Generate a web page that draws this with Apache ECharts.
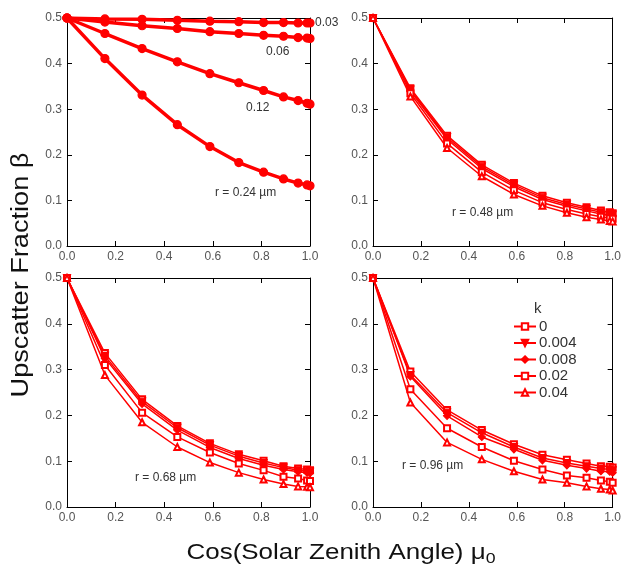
<!DOCTYPE html>
<html>
<head>
<meta charset="utf-8">
<script src="https://cdn.jsdelivr.net/npm/echarts@6/dist/echarts.min.js"></script>
<style>
  html, body { margin: 0; padding: 0; background: #fff; }
  #chart { width: 624px; height: 580px; }
</style>
</head>
<body>
<div id="chart"></div>
<script>
// cos of solar zenith angle, same for every curve
const mu0 = [0, 0.156, 0.309, 0.454, 0.588, 0.707, 0.809, 0.891, 0.951, 0.988, 1.0];
const axisTicks = ['0.0', '0.2', '0.4', '0.6', '0.8', '1.0'];

// panel 1: small particles, k curves lie on top of each other
const r003 = [0.5, 0.498, 0.497, 0.495, 0.493, 0.492, 0.490, 0.490, 0.489, 0.489, 0.489];
const r006 = [0.5, 0.491, 0.483, 0.477, 0.470, 0.466, 0.462, 0.460, 0.457, 0.456, 0.455];
const r012 = [0.5, 0.466, 0.433, 0.404, 0.378, 0.358, 0.341, 0.327, 0.319, 0.313, 0.311];
const r024 = [0.5, 0.411, 0.331, 0.266, 0.218, 0.183, 0.162, 0.147, 0.138, 0.134, 0.132];

// panel 2: r = 0.48
const r048_k0 = [0.5, 0.346, 0.242, 0.178, 0.138, 0.110, 0.095, 0.085, 0.078, 0.074, 0.072];
const r048_k004 = [0.5, 0.343, 0.238, 0.174, 0.134, 0.106, 0.091, 0.081, 0.074, 0.071, 0.069];
const r048_k008 = [0.5, 0.340, 0.234, 0.170, 0.130, 0.102, 0.087, 0.077, 0.070, 0.067, 0.066];
const r048_k02 = [0.5, 0.335, 0.225, 0.162, 0.122, 0.095, 0.080, 0.070, 0.064, 0.061, 0.060];
const r048_k04 = [0.5, 0.328, 0.215, 0.153, 0.113, 0.088, 0.073, 0.063, 0.058, 0.055, 0.054];

// panel 3: r = 0.68
const r068_k0 = [0.5, 0.336, 0.235, 0.177, 0.139, 0.115, 0.101, 0.089, 0.084, 0.082, 0.080];
const r068_k004 = [0.5, 0.330, 0.230, 0.173, 0.135, 0.111, 0.096, 0.086, 0.080, 0.078, 0.077];
const r068_k008 = [0.5, 0.325, 0.225, 0.168, 0.130, 0.106, 0.091, 0.082, 0.077, 0.075, 0.074];
const r068_k02 = [0.5, 0.310, 0.206, 0.153, 0.119, 0.095, 0.080, 0.066, 0.062, 0.058, 0.057];
const r068_k04 = [0.5, 0.288, 0.185, 0.131, 0.097, 0.075, 0.060, 0.050, 0.045, 0.044, 0.043];

// panel 4: r = 0.96
const r096_k0 = [0.5, 0.296, 0.212, 0.168, 0.137, 0.114, 0.103, 0.095, 0.089, 0.088, 0.086];
const r096_k004 = [0.5, 0.288, 0.206, 0.162, 0.131, 0.107, 0.096, 0.089, 0.084, 0.082, 0.080];
const r096_k008 = [0.5, 0.285, 0.199, 0.153, 0.126, 0.102, 0.091, 0.084, 0.078, 0.077, 0.075];
const r096_k02 = [0.5, 0.257, 0.172, 0.131, 0.101, 0.082, 0.069, 0.064, 0.058, 0.055, 0.053];
const r096_k04 = [0.5, 0.228, 0.141, 0.104, 0.078, 0.060, 0.053, 0.045, 0.040, 0.038, 0.036];

const kNames = ['0', '0.004', '0.008', '0.02', '0.04'];
const kSymbols = ['emptyRect', 'path://M0,0 L10,0 L5,10 Z', 'diamond', 'emptyRect', 'emptyTriangle'];
const kSizes = [6, 7, 7, 6, 6];

const RED = '#ff0000';
const FONT = 'Liberation Sans, Arial, sans-serif';

const grids = [
    { left: 67, top: 18, width: 243, height: 228 },
    { left: 373, top: 18, width: 241, height: 228 },
    { left: 67, top: 278, width: 243, height: 229 },
    { left: 373, top: 278, width: 241, height: 229 }
];

function makeAxes() {
    const xAxis = [], yAxis = [];
    grids.forEach((g, i) => {
        const common = {
            gridIndex: i, type: 'value', min: 0,
            axisLine: { show: true, onZero: false, lineStyle: { color: '#000', width: 1 } },
            axisTick: { show: true, inside: true, length: 5, lineStyle: { color: '#000' } },
            splitLine: { show: false }
        };
        xAxis.push(Object.assign({}, common, {
            position: 'bottom', max: 1, interval: 0.2,
            axisLabel: { color: '#555', fontSize: 12, fontFamily: FONT, margin: 5,
                formatter: v => axisTicks[Math.round(v / 0.2)] }
        }));
        xAxis.push(Object.assign({}, common, {
            position: 'top', max: 1, interval: 0.2, axisLabel: { show: false }
        }));
        yAxis.push(Object.assign({}, common, {
            position: 'left', max: 0.5, interval: 0.1,
            axisLabel: { color: '#555', fontSize: 12, fontFamily: FONT, margin: 5,
                formatter: v => v.toFixed(1) }
        }));
        yAxis.push(Object.assign({}, common, {
            position: 'right', max: 0.5, interval: 0.1, axisLabel: { show: false }
        }));
    });
    return { xAxis, yAxis };
}

function line(name, data, panel, symbol, size, width) {
    return {
        name: name,
        type: 'line',
        xAxisIndex: panel * 2,
        yAxisIndex: panel * 2,
        data: mu0.map((x, i) => [x, data[i]]),
        symbol: symbol,
        symbolSize: size,
        showAllSymbol: true,
        lineStyle: { color: RED, width: width },
        itemStyle: { color: RED, borderColor: RED, borderWidth: 1.2 },
        emphasis: { disabled: true },
        animation: false
    };
}

function getOption() {
    const axes = makeAxes();
    const series = [];

    [r003, r006, r012, r024].forEach((d, i) => {
        series.push(line('small' + i, d, 0, 'circle', 8, 3.5));
    });
    const panels = [
        [r048_k0, r048_k004, r048_k008, r048_k02, r048_k04],
        [r068_k0, r068_k004, r068_k008, r068_k02, r068_k04],
        [r096_k0, r096_k004, r096_k008, r096_k02, r096_k04]
    ];
    panels.forEach((set, p) => {
        set.forEach((d, k) => {
            series.push(line(kNames[k], d, p + 1, kSymbols[k], kSizes[k], 1.5));
        });
    });

    const label = (text, x, y) => ({
        type: 'text', x: x, y: y,
        style: { text: text, fill: '#333', font: '12px ' + FONT, textVerticalAlign: 'middle' }
    });

    return {
        backgroundColor: '#fff',
        animation: false,
        grid: grids,
        xAxis: axes.xAxis,
        yAxis: axes.yAxis,
        legend: {
            data: kNames,
            orient: 'vertical',
            left: 508,
            top: 314,
            itemWidth: 22,
            itemHeight: 8,
            itemGap: 1.5,
            textStyle: { color: '#333', fontSize: 15, fontFamily: FONT, padding: [0, 0, 0, -2] },
            selectedMode: false
        },
        graphic: [
            label('0.03', 315, 23),
            label('0.06', 266, 52),
            label('0.12', 246, 108),
            label('r = 0.24 \u00b5m', 215, 193),
            label('r = 0.48 \u00b5m', 452, 213),
            label('r = 0.68 \u00b5m', 135, 478),
            label('r = 0.96 \u00b5m', 402, 466),
            {
                type: 'text', x: 534, y: 309,
                style: { text: 'k', fill: '#333', font: '15px ' + FONT, textVerticalAlign: 'middle' }
            },
            {
                type: 'text', x: 22, y: 275, rotation: Math.PI / 2, scaleX: 1.18,
                style: { text: 'Upscatter Fraction \u03b2', fill: '#111', font: '23px ' + FONT,
                    textAlign: 'center', textVerticalAlign: 'middle' }
            },
            {
                type: 'text', x: 341, y: 553, scaleX: 1.18,
                style: {
                    text: '{a|Cos(Solar Zenith Angle) \u03bc}{b|0}',
                    textAlign: 'center', textVerticalAlign: 'middle',
                    rich: {
                        a: { fontSize: 22, fontFamily: FONT, fill: '#111', color: '#111' },
                        b: { fontSize: 15, fontFamily: FONT, fill: '#111', color: '#111', padding: [12, 0, 0, 0] }
                    }
                }
            }
        ],
        series: series
    };
}

function draw() {
    let dom = document.getElementById('chart');
    let chart = echarts.init(dom, null, { renderer: 'canvas' });
    chart.setOption(getOption());
}

draw();
</script>
</body>
</html>
